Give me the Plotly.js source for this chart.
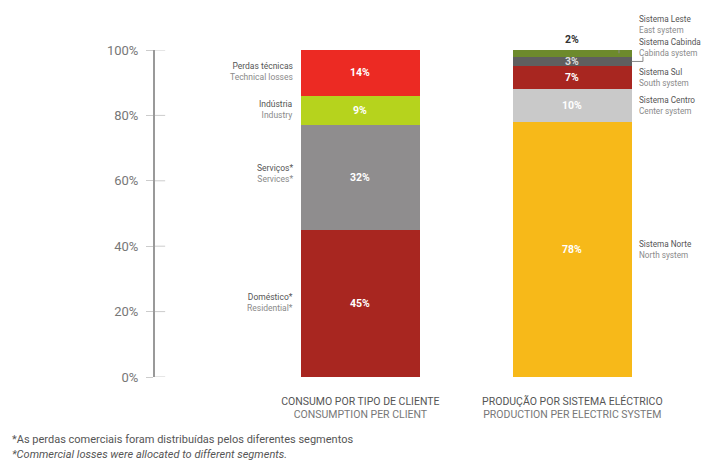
<!DOCTYPE html>
<html>
<head>
<meta charset="utf-8">
<script src="https://cdn.plot.ly/plotly-3.0.1.min.js"></script>
<style>html,body{margin:0;padding:0;background:#fff;}#chart{width:701px;height:462px;}</style>
</head>
<body>
<div id="chart"></div>
<script>
// ---- data ----
const categories = ['CONSUMO POR TIPO DE CLIENTE', 'PRODUÇÃO POR SISTEMA ELÉCTRICO'];
const categoriesEN = ['CONSUMPTION PER CLIENT', 'PRODUCTION PER ELECTRIC SYSTEM'];

const consumoPT = ['Doméstico*', 'Serviços*', 'Indústria', 'Perdas técnicas'];
const consumoEN = ['Residential*', 'Services*', 'Industry', 'Technical losses'];
const consumoValues = [45, 32, 9, 14];
const consumoColors = ['#A82620', '#8F8D8E', '#B6D31D', '#EC2A23'];

const producaoPT = ['Sistema Norte', 'Sistema Centro', 'Sistema Sul', 'Sistema Cabinda', 'Sistema Leste'];
const producaoEN = ['North system', 'Center system', 'South system', 'Cabinda system', 'East system'];
const producaoValues = [78, 10, 7, 3, 2];
const producaoColors = ['#F7B919', '#C9C9C9', '#A82620', '#5F5F5F', '#6D8A2C'];

const yTicks = [0, 20, 40, 60, 80, 100];
const footnotes = ['*As perdas comerciais foram distribuídas pelos diferentes segmentos',
                   '<i>*Commercial losses were allocated to different segments.</i>'];

// ---- build ----
const FONT = 'Roboto, "DejaVu Sans", sans-serif';
const BW = 0.56;
const traces = [];
const annotations = [];
const shapes = [];

function cum(vals) { const c = []; let s = 0; vals.forEach(v => { c.push(s); s += v; }); return c; }

const cCum = cum(consumoValues);
consumoValues.forEach((v, i) => {
  traces.push({type: 'bar', x: [0], y: [v], width: BW, marker: {color: consumoColors[i], line: {width: 0}},
    name: consumoPT[i], hoverinfo: 'skip', showlegend: false});
  const mid = cCum[i] + v / 2;
  annotations.push({x: 0, y: mid, xref: 'x', yref: 'y', text: '<b>' + v + '%</b>', showarrow: false,
    font: {family: FONT, size: 10.5, color: '#ffffff'}});
  annotations.push({x: 0 - BW / 2, y: mid, xref: 'x', yref: 'y', xanchor: 'right', align: 'right', xshift: -6,
    yshift: (i === 1 ? 4 : 1), text: '<span style="color:#555">' + consumoPT[i] + '</span><br><span style="color:#8a8a8a">' + consumoEN[i] + '</span>',
    showarrow: false, font: {family: FONT, size: 8.5}});
});

const pCum = cum(producaoValues);
const valColors = ['#ffffff', '#ffffff', '#ffffff', '#dddddd', '#333333'];
const labShift = [0, 0, 0, 14, 29];
producaoValues.forEach((v, i) => {
  traces.push({type: 'bar', x: [1], y: [v], width: BW, marker: {color: producaoColors[i], line: {width: 0}},
    name: producaoPT[i], hoverinfo: 'skip', showlegend: false});
  const mid = pCum[i] + v / 2;
  const top = pCum[i] + v;
  annotations.push({x: 1, y: (i === producaoValues.length - 1 ? top : mid), xref: 'x', yref: 'y',
    yanchor: (i === producaoValues.length - 1 ? 'bottom' : 'middle'), yshift: (i === producaoValues.length - 1 ? 2 : 0),
    text: '<b>' + v + '%</b>', showarrow: false, font: {family: FONT, size: 10.5, color: valColors[i]}});
  annotations.push({x: 1 + BW / 2, y: mid, xref: 'x', yref: 'y', xanchor: 'left', align: 'left', xshift: 5,
    yshift: labShift[i], text: '<span style="color:#555">' + producaoPT[i] + '</span><br><span style="color:#8a8a8a">' + producaoEN[i] + '</span>',
    showarrow: false, font: {family: FONT, size: 8.2}});
});

// leader lines (Leste and Cabinda)
const lesteMid = pCum[4] + producaoValues[4] / 2;
const cabMid = pCum[3] + producaoValues[3] / 2;
shapes.push({type: 'path', xref: 'x', yref: 'y',
  path: 'M 1.22 ' + lesteMid + ' L 1.22 109.2 L 1.30 109.2', line: {color: '#888', width: 1}});
shapes.push({type: 'path', xref: 'x', yref: 'y',
  path: 'M ' + (1 + BW / 2) + ' ' + cabMid + ' L 1.333 ' + cabMid + ' L 1.333 98.0', line: {color: '#888', width: 1}});

// y-axis ticks crossing the axis line (inner half)
yTicks.forEach(t => {
  shapes.push({type: 'line', xref: 'paper', yref: 'y', x0: 0, x1: 0.019, y0: t, y1: t, line: {color: '#cccccc', width: 1}, layer: 'below'});
});

// footnotes
annotations.push({xref: 'paper', yref: 'paper', x: -0.271, y: -0.19, xanchor: 'left', yanchor: 'middle',
  text: footnotes[0], showarrow: false, font: {family: FONT, size: 11, color: '#555'}});
annotations.push({xref: 'paper', yref: 'paper', x: -0.271, y: -0.238, xanchor: 'left', yanchor: 'middle',
  text: footnotes[1], showarrow: false, font: {family: FONT, size: 11, color: '#555'}});

const layout = {
  width: 701, height: 462,
  margin: {l: 155, r: 11, t: 50, b: 85},
  paper_bgcolor: '#ffffff', plot_bgcolor: '#ffffff',
  barmode: 'stack', bargap: 0,
  showlegend: false,
  xaxis: {range: [-0.969, 1.555], tickvals: [0, 1],
    ticktext: categories.map((c, i) => '<span style="color:#555">' + c + '</span><br><span style="color:#777">' + categoriesEN[i] + '</span>'),
    showgrid: false, zeroline: false, showline: false, ticks: '', ticklabelstandoff: 16,
    tickfont: {family: FONT, size: 10.5}, fixedrange: true},
  yaxis: {range: [0, 100], tickvals: yTicks, ticktext: yTicks.map(t => t + '%'),
    showgrid: false, zeroline: false, showline: true, linecolor: '#999999', linewidth: 2,
    ticks: 'outside', ticklen: 7, tickcolor: '#cccccc', tickwidth: 1, ticklabelstandoff: 5,
    tickfont: {family: FONT, size: 13, color: '#777'}, fixedrange: true},
  annotations: annotations,
  shapes: shapes,
  font: {family: FONT}
};

Plotly.newPlot('chart', traces, layout, {displayModeBar: false, staticPlot: true});
</script>
</body>
</html>
